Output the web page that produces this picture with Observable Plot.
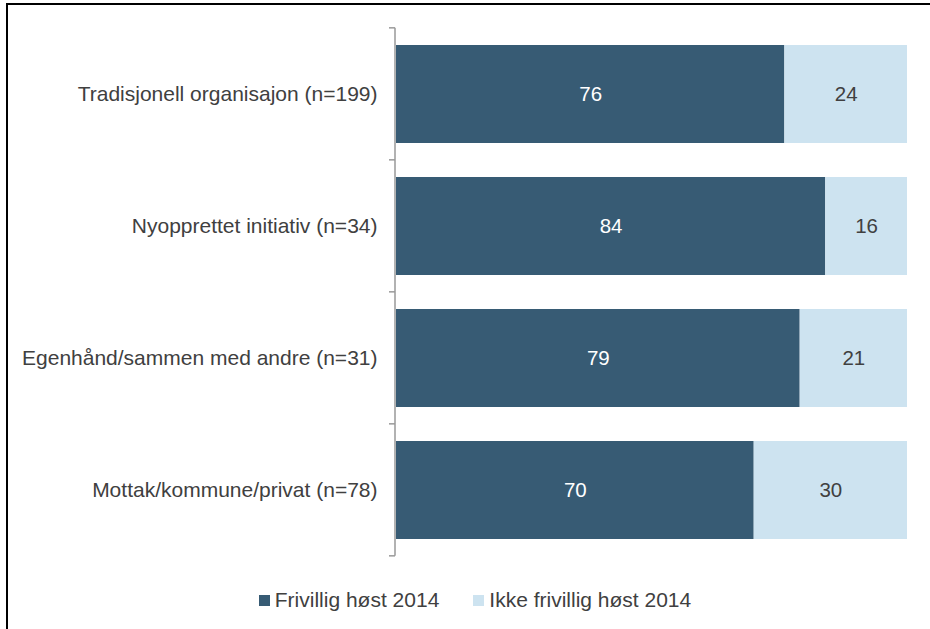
<!DOCTYPE html>
<html>
<head>
<meta charset="utf-8">
<script src="https://cdn.jsdelivr.net/npm/d3@7"></script>
<script src="https://cdn.jsdelivr.net/npm/@observablehq/plot@0.6"></script>
<style>
  html, body { margin: 0; padding: 0; background: #fff; }
  #wrap { position: relative; width: 930px; height: 629px; overflow: hidden; font-family: "Liberation Sans", Arial, sans-serif; }
  #frame { position: absolute; left: 6px; top: 3px; width: 940px; height: 700px; border-top: 2px solid #000; border-left: 2px solid #000; pointer-events: none; }
  #chart { position: absolute; left: 0; top: 0; }
  #legend { position: absolute; left: 10px; top: 588px; width: 930px; display: flex; justify-content: center; font-size: 21px; line-height: 24px; color: #404040; }
  .item { display: flex; align-items: center; }
  .sw { width: 11px; height: 11px; margin-right: 5px; }
</style>
</head>
<body>
<div id="wrap">
  <div id="chart"></div>
  <div id="legend"></div>
  <div id="frame"></div>
</div>
<script>
const categories = ["Tradisjonell organisajon (n=199)", "Nyopprettet initiativ (n=34)", "Egenhånd/sammen med andre (n=31)", "Mottak/kommune/privat (n=78)"];
const series = ["Frivillig høst 2014", "Ikke frivillig høst 2014"];
const frivillig = [76, 84, 79, 70];
const ikkeFrivillig = [24, 16, 21, 30];
const colors = ["#375B74", "#CDE3F0"];
const textColors = ["#ffffff", "#404040"];

const data = [];
categories.forEach((c, i) => {
  data.push({cat: c, series: series[0], value: frivillig[i]});
  data.push({cat: c, series: series[1], value: ikkeFrivillig[i]});
});

const chart = Plot.plot({
  width: 930,
  height: 580,
  marginLeft: 396,
  marginRight: 23,
  marginTop: 26,
  marginBottom: 23,
  style: {fontFamily: "Liberation Sans, Arial, sans-serif", background: "transparent"},
  x: {domain: [0, 100], axis: null},
  y: {domain: categories, paddingInner: 0.26, paddingOuter: 0.13, axis: null},
  color: {domain: series, range: colors},
  marks: [
    Plot.barX(data, Plot.stackX({x: "value", y: "cat", fill: "series", order: series})),
    Plot.text(data, Plot.stackX({x: "value", y: "cat", z: "series", order: series, text: d => String(d.value),
      fill: d => textColors[series.indexOf(d.series)], fontSize: 20.5})),
    Plot.text(categories, {x: 0, y: d => d, text: d => d, textAnchor: "end", dx: -19, fontSize: 21, fill: "#404040"})
  ]
});
document.getElementById("chart").appendChild(chart);

// axis line and ticks at band boundaries, computed from the scale
const ys = chart.scale("y");
const svg = d3.select(chart);
const step = ys.step;
const first = ys.apply(categories[0]) - (step * 0.13);
const bounds = d3.range(categories.length + 1).map(i => first + i * step);
const x0 = chart.scale("x").apply(0) - 1;
const g = svg.append("g").attr("stroke", "#999").attr("stroke-width", 1.5).attr("fill", "none");
g.append("line").attr("x1", x0).attr("x2", x0).attr("y1", bounds[0]).attr("y2", bounds[bounds.length - 1]);
bounds.forEach(b => g.append("line").attr("x1", x0 - 6).attr("x2", x0).attr("y1", b).attr("y2", b));

const legend = document.getElementById("legend");
series.forEach((s, i) => {
  const it = document.createElement("div");
  it.className = "item";
  it.style.marginRight = i === 0 ? "34px" : "0";
  const sw = document.createElement("div");
  sw.className = "sw";
  sw.style.background = colors[i];
  const t = document.createElement("span");
  t.textContent = s;
  it.appendChild(sw); it.appendChild(t);
  legend.appendChild(it);
});
</script>
</body>
</html>
